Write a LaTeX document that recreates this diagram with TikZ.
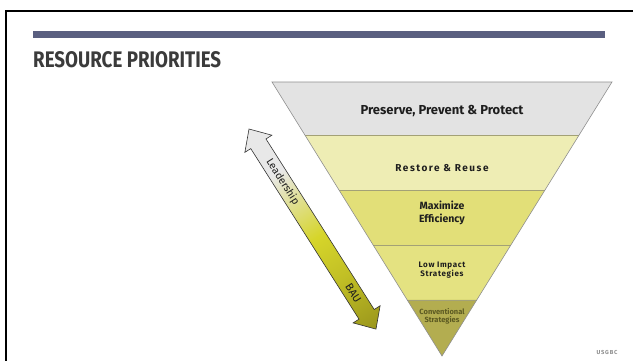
\documentclass[tikz,border=0pt]{standalone}
\usepackage{fontspec}
\setmainfont{Fira Sans}
\newfontfamily\spacedfont[LetterSpace=8]{Fira Sans}
\newfontfamily\restorefont[LetterSpace=15]{Fira Sans}
\newfontfamily\widefont[LetterSpace=14]{Fira Sans}
\usetikzlibrary{calc}
\definecolor{barblue}{HTML}{5A5F80}
\definecolor{titlegray}{HTML}{3B3B3B}
\definecolor{bandA}{HTML}{E3E3E3}
\definecolor{bandB}{HTML}{EEEDB4}
\definecolor{bandC}{HTML}{E2DF78}
\definecolor{bandD}{HTML}{E4E281}
\definecolor{bandE}{HTML}{B3AD50}
\definecolor{bandline}{HTML}{A3A176}
\definecolor{outline}{HTML}{8F8F8F}
\definecolor{labeltext}{HTML}{1E1E1E}
\definecolor{convtext}{HTML}{5C5A22}
\definecolor{arrowlight}{HTML}{E8E8E8}
\definecolor{arrowmid}{HTML}{D6D52A}
\definecolor{arrowdark}{HTML}{9A961C}
\definecolor{footgray}{HTML}{8C8C8C}
\pgfdeclarehorizontalshading{leadshade}{100bp}{color(0bp)=(arrowlight); color(25bp)=(arrowlight); color(36bp)=(arrowlight); color(52bp)=(arrowmid); color(62bp)=(arrowmid!65!arrowdark); color(75bp)=(arrowdark); color(100bp)=(arrowdark)}
\tikzset{
  bandsep/.style={draw=bandline, line width=0.6pt},
  bandlabel/.style={inner sep=0pt, align=center, text=labeltext},
  arrowtext/.style={inner sep=0pt, text=labeltext}
}
\begin{document}
\begin{tikzpicture}[x=1pt,y=-1pt]
\useasboundingbox (0,0) rectangle (633,360);
\begin{scope}
  \clip (0,0) rectangle (633,360);
  \draw[line width=2pt] (6,11) rectangle (650,380);
\end{scope}
\fill[barblue] (33,31) rectangle (605,37.7);
\node[anchor=base west, inner sep=0pt, text=titlegray] (title) at (33,67.7)
  {\resizebox{188pt}{16pt}{\bfseries RESOURCE PRIORITIES}};

% funnel
\coordinate (TL) at (272,82);
\coordinate (TR) at (612,82);
\coordinate (AP) at (442,356);
\coordinate (L1) at ($(TL)!0.1953!(AP)$);
\coordinate (R1) at ($(TR)!0.1953!(AP)$);
\coordinate (L2) at ($(TL)!0.3942!(AP)$);
\coordinate (R2) at ($(TR)!0.3942!(AP)$);
\coordinate (L3) at ($(TL)!0.5949!(AP)$);
\coordinate (R3) at ($(TR)!0.5949!(AP)$);
\coordinate (L4) at ($(TL)!0.7956!(AP)$);
\coordinate (R4) at ($(TR)!0.7956!(AP)$);
\fill[bandA] (TL) -- (TR) -- (R1) -- (L1) -- cycle;
\fill[bandB] (L1) -- (R1) -- (R2) -- (L2) -- cycle;
\fill[bandC] (L2) -- (R2) -- (R3) -- (L3) -- cycle;
\fill[bandD] (L3) -- (R3) -- (R4) -- (L4) -- cycle;
\fill[bandE] (L4) -- (R4) -- (AP) -- cycle;
\draw[bandsep] (L1) -- (R1);
\draw[bandsep] (L2) -- (R2);
\draw[bandsep] (L3) -- (R3);
\draw[bandsep] (L4) -- (R4);
\draw[draw=outline, line width=0.6pt] (TL) -- (TR) -- (AP) -- cycle;

\node[bandlabel, font=\fontsize{13}{14}\selectfont\bfseries] (preserve) at (442,111) {Preserve, Prevent \& Protect};
\node[bandlabel, font=\fontsize{10}{11}\restorefont\bfseries] (restore) at (442,168) {Restore \& Reuse};
\node[bandlabel, font=\fontsize{10.5}{12.3}\selectfont\bfseries] (maximize) at (442,213) {Maximize\\Efficiency};
\node[bandlabel, font=\fontsize{8}{8.2}\spacedfont\bfseries] (lowimpact) at (442,270) {Low Impact\\Strategies};
\node[bandlabel, font=\fontsize{7.5}{8.4}\selectfont\bfseries, text=convtext] (conventional) at (442,316) {Conventional\\Strategies};
\node[inner sep=0pt, font=\fontsize{5.8}{7}\widefont\bfseries, text=footgray] (usgbc) at (607,352) {USGBC};

% double arrow
\begin{scope}[transform canvas={shift={(249,129)}, rotate=-57.6}]
  \path[draw=black!80, line width=0.6pt, shading=leadshade]
    (0,0) -- (17.5,16) -- (17.5,9) -- (219.5,9) -- (219.5,16) -- (237,0)
    -- (219.5,-16) -- (219.5,-9) -- (17.5,-9) -- (17.5,-16) -- cycle;
  \node[arrowtext, font=\fontsize{10.5}{11}\selectfont] (leadership) at (62.7,0) {Leadership};
  \node[arrowtext, font=\fontsize{11}{11}\selectfont] (bau) at (194.8,0) {BAU};
\end{scope}
\end{tikzpicture}
\end{document}
